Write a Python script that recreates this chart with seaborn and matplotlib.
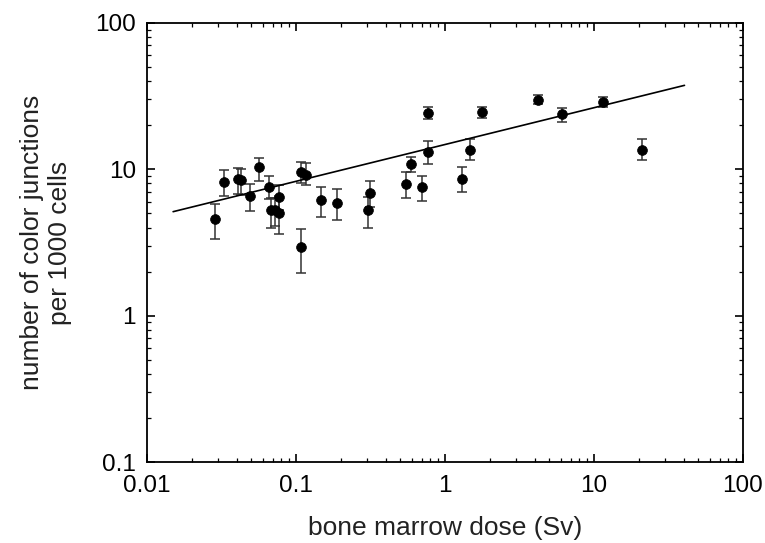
import matplotlib
matplotlib.use("Agg")
import matplotlib.pyplot as plt
import seaborn as sns
import pandas as pd
import numpy as np

# values
dose = [0.0286, 0.0327, 0.0412, 0.0431, 0.0492, 0.0568, 0.0659, 0.068, 0.0726, 0.0775,
        0.0775, 0.109, 0.109, 0.117, 0.148, 0.189, 0.303, 0.313, 0.545, 0.593,
        0.706, 0.769, 0.769, 1.31, 1.47, 1.78, 4.22, 6.11, 11.6, 21.0]
junctions = [4.6, 8.2, 8.6, 8.4, 6.6, 10.3, 7.6, 5.3, 5.25, 6.5,
             5.0, 2.95, 9.6, 9.2, 6.2, 5.9, 5.25, 6.9, 7.9, 10.8,
             7.6, 24.2, 13.1, 8.6, 13.5, 24.6, 29.8, 23.9, 28.6, 13.5]
err_low = [3.35, 6.6, 6.8, 6.7, 5.2, 8.3, 6.3, 4.0, 4.1, 5.3,
           3.6, 1.95, 8.0, 7.8, 4.7, 4.5, 4.0, 5.5, 6.4, 9.5,
           6.1, 22.0, 10.8, 7.0, 11.5, 22.4, 27.8, 21.0, 26.5, 11.5]
err_high = [5.8, 9.9, 10.2, 10.1, 7.9, 11.9, 9.0, 6.4, 6.4, 7.8,
            6.6, 3.9, 11.2, 11.0, 7.6, 7.3, 6.5, 8.3, 9.5, 12.2,
            9.0, 26.4, 15.7, 10.3, 16.2, 26.6, 32.0, 26.3, 31.0, 16.0]

# fitted power-law line, end points
fit_dose = [0.015, 40.6]
fit_junctions = [5.13, 37.4]

x_ticks = [0.01, 0.1, 1, 10, 100]
x_ticklabels = ["0.01", "0.1", "1", "10", "100"]
y_ticks = [0.1, 1, 10, 100]
y_ticklabels = ["0.1", "1", "10", "100"]

df = pd.DataFrame({"dose": dose, "junctions": junctions,
                   "low": err_low, "high": err_high})
fit_df = pd.DataFrame({"dose": fit_dose, "junctions": fit_junctions})

sns.set_style("ticks")
plt.rcParams["font.family"] = ["Liberation Sans", "DejaVu Sans"]

fig = plt.figure(figsize=(7.65, 5.43), dpi=100)
ax = fig.add_axes([0.192, 0.149, 0.779, 0.809])

yerr = np.array([df["junctions"] - df["low"], df["high"] - df["junctions"]])
ax.errorbar(df["dose"], df["junctions"], yerr=yerr, fmt="none",
            ecolor="#333333", elinewidth=1.1, capsize=3.5, capthick=1.1, zorder=2)

sns.lineplot(data=fit_df, x="dose", y="junctions", color="black",
             linewidth=1.2, ax=ax, zorder=3)
sns.scatterplot(data=df, x="dose", y="junctions", color="black", s=50,
                edgecolor="black", linewidth=0.5, ax=ax, zorder=4)

ax.set_xscale("log")
ax.set_yscale("log")
ax.set_xlim(0.01, 100)
ax.set_ylim(0.1, 100)
ax.set_xticks(x_ticks)
ax.set_xticklabels(x_ticklabels)
ax.set_yticks(y_ticks)
ax.set_yticklabels(y_ticklabels)

ax.tick_params(which="both", direction="in", top=True, right=True,
               colors="black", labelsize=17.5)
ax.tick_params(which="major", length=6, width=1.2)
ax.tick_params(axis="x", which="major", pad=9)
ax.tick_params(axis="y", which="major", pad=8)
ax.tick_params(which="minor", length=3, width=0.9)
for sp in ax.spines.values():
    sp.set_linewidth(1.3)
    sp.set_color("black")

ax.set_xlabel("bone marrow dose (Sv)", fontsize=19, color="#222222")
ax.set_ylabel("number of color junctions\nper 1000 cells", fontsize=19,
              linespacing=1.2, color="#222222")
ax.xaxis.set_label_coords(0.5, -0.123)
ax.yaxis.set_label_coords(-0.126, 0.5)

plt.savefig("out.png", dpi=100)
plt.close()
